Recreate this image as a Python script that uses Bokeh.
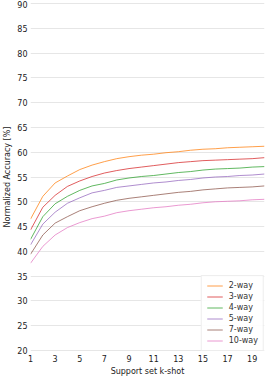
from bokeh.plotting import figure
from bokeh.models import Range1d, FixedTicker
from bokeh.embed import file_html
from bokeh.resources import INLINE

shots = list(range(1, 21))
acc_2way = [46.5, 51.1, 53.8, 55.2, 56.5, 57.4, 58.1, 58.7, 59.1, 59.4, 59.6, 59.9, 60.1, 60.4, 60.6, 60.7, 60.9, 61.0, 61.1, 61.2]
acc_3way = [44.3, 48.9, 51.3, 53.1, 54.2, 55.1, 55.8, 56.3, 56.7, 57.0, 57.3, 57.6, 57.9, 58.1, 58.3, 58.4, 58.5, 58.6, 58.7, 58.9]
acc_4way = [42.4, 47.0, 49.6, 51.1, 52.3, 53.2, 53.7, 54.4, 54.8, 55.1, 55.3, 55.6, 55.9, 56.1, 56.4, 56.6, 56.7, 56.8, 57.0, 57.1]
acc_5way = [41.3, 45.5, 47.9, 49.7, 50.8, 51.8, 52.3, 52.9, 53.2, 53.5, 53.8, 54.0, 54.3, 54.5, 54.8, 55.0, 55.1, 55.3, 55.4, 55.6]
acc_7way = [39.4, 43.3, 45.7, 47.0, 48.2, 49.0, 49.7, 50.3, 50.7, 51.0, 51.3, 51.6, 51.9, 52.1, 52.4, 52.6, 52.8, 52.9, 53.0, 53.2]
acc_10way = [37.6, 41.0, 43.3, 44.8, 45.8, 46.6, 47.1, 47.8, 48.2, 48.5, 48.8, 49.0, 49.3, 49.5, 49.8, 50.0, 50.1, 50.2, 50.4, 50.5]

series_labels = ["2-way", "3-way", "4-way", "5-way", "7-way", "10-way"]
series_values = [acc_2way, acc_3way, acc_4way, acc_5way, acc_7way, acc_10way]
colors = ["#ff7f0e", "#d62728", "#2ca02c", "#9467bd", "#8c564b", "#e377c2"]

x_ticks = list(range(1, 21, 2))
y_ticks = list(range(20, 91, 5))

p = figure(frame_width=234, frame_height=349, output_backend="svg", toolbar_location=None,
           x_range=Range1d(1, 20), y_range=Range1d(19.8, 90.2),
           min_border_left=0, min_border_right=3, min_border_top=2, min_border_bottom=0)
p.outline_line_color = None
p.background_fill_color = "white"

for lab, vals, c in zip(series_labels, series_values, colors):
    p.line(shots, vals, line_color=c, line_width=1.0, line_alpha=0.75, legend_label=lab)

legend = p.legend[0]
legend.location = "bottom_right"
legend.label_text_font = "DejaVu Sans"
legend.label_text_font_size = "8px"
legend.label_text_color = "#333333"
legend.label_height = 9
legend.glyph_height = 9
legend.glyph_width = 16
legend.spacing = 2
legend.padding = 5
legend.margin = 0
legend.label_standoff = 6
legend.border_line_color = "#dddddd"
legend.border_line_width = 1
legend.background_fill_alpha = 0.9

p.xaxis.ticker = FixedTicker(ticks=x_ticks)
p.yaxis.ticker = FixedTicker(ticks=y_ticks)
p.xaxis.minor_tick_line_color = None
p.yaxis.minor_tick_line_color = None
for ax in (p.xaxis, p.yaxis):
    ax.axis_line_color = None
    ax.major_tick_line_color = None
    ax.major_tick_out = 0
    ax.major_tick_in = 0
    ax.major_label_text_font = "DejaVu Sans"
    ax.major_label_text_font_size = "8px"
    ax.major_label_text_color = "#222222"
    ax.axis_label_text_font = "DejaVu Sans"
    ax.axis_label_text_font_size = "8px"
    ax.axis_label_text_font_style = "normal"
    ax.axis_label_text_color = "#222222"
    ax.major_label_standoff = 3
    ax.axis_label_standoff = 2

p.xaxis.axis_label = "Support set k-shot"
p.yaxis.axis_label = "Normalized Accuracy [%]"

p.xgrid.grid_line_color = None
p.ygrid.grid_line_color = "#e6e6e6"
p.ygrid.grid_line_width = 1

open("out.html", "w").write(file_html(p, INLINE))
